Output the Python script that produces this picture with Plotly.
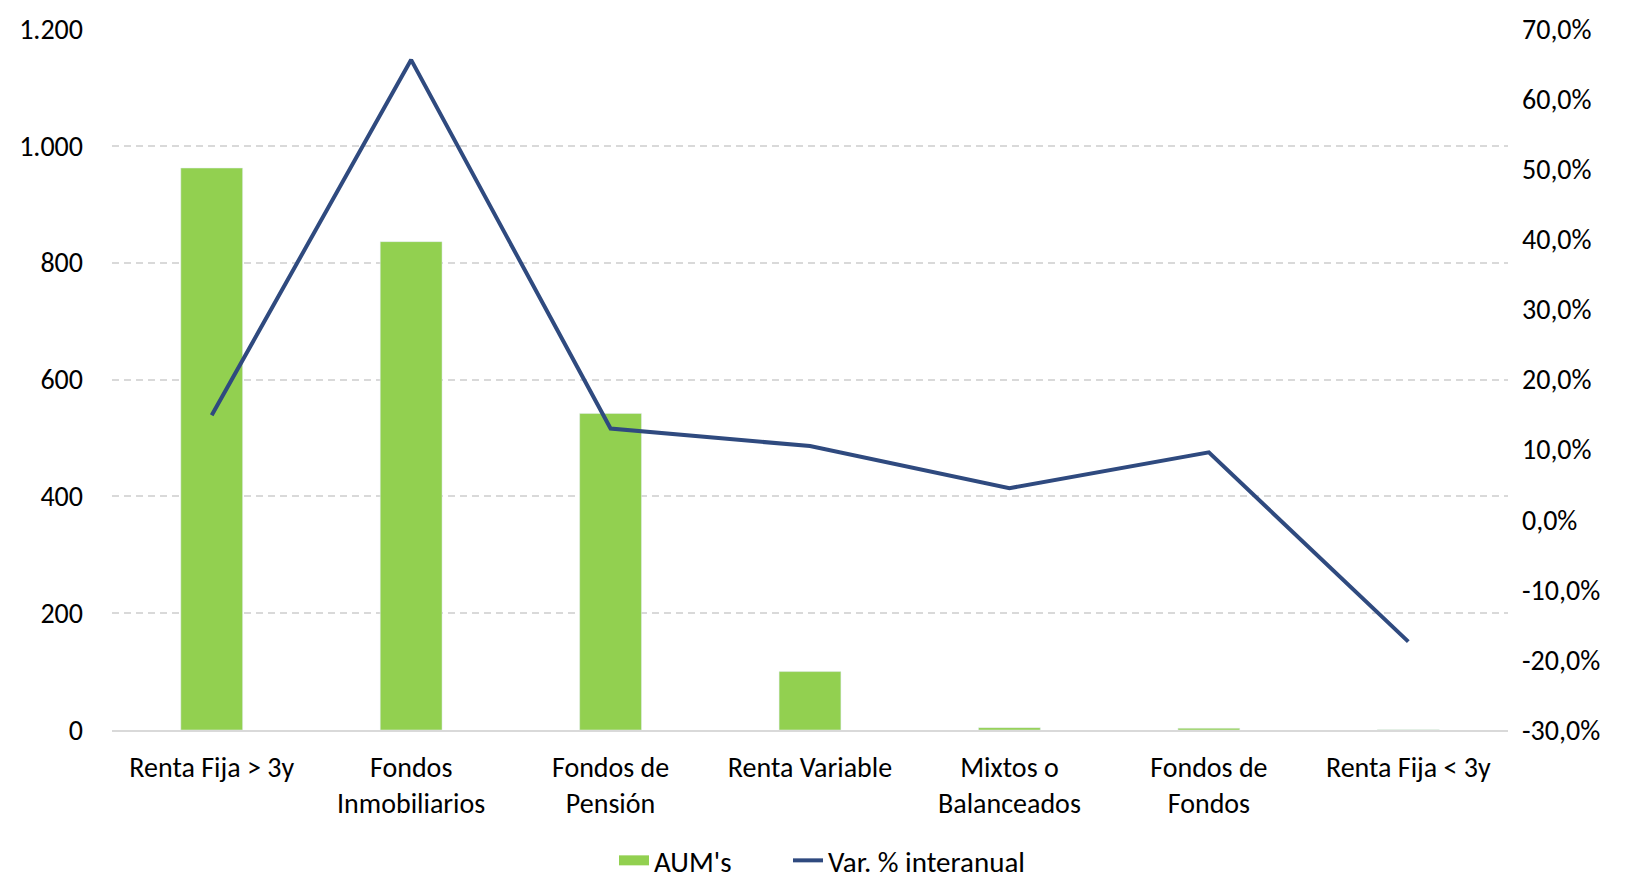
import plotly.graph_objects as go

categories = ["Renta Fija > 3y", "Fondos<br>Inmobiliarios", "Fondos de<br>Pensión",
              "Renta Variable", "Mixtos o<br>Balanceados", "Fondos de<br>Fondos", "Renta Fija < 3y"]
aums = [962, 836, 542, 100, 4, 3, 0.5]
var_pct = [0.149, 0.656, 0.130, 0.105, 0.045, 0.096, -0.174]

left_ticks = [0, 200, 400, 600, 800, 1000, 1200]
left_labels = ["0", "200", "400", "600", "800", "1.000", "1.200"]
right_ticks = [-0.3, -0.2, -0.1, 0.0, 0.1, 0.2, 0.3, 0.4, 0.5, 0.6, 0.7]
right_labels = ["-30,0%", "-20,0%", "-10,0%", "0,0%", "10,0%", "20,0%", "30,0%",
                "40,0%", "50,0%", "60,0%", "70,0%"]

FONT = "Calibri, Carlito, Lato, sans-serif"
GREEN = "#92D050"
BLUE = "#2F4A7F"
W = 1625

fig = go.Figure()
fig.add_trace(go.Bar(x=categories, y=aums, name="AUM's", marker_color=GREEN,
                     width=0.31, yaxis="y", showlegend=False))
# legend stand-in for the bar series (rectangular swatch)
fig.add_trace(go.Scatter(x=[None], y=[None], name="AUM's", mode="lines",
                         line=dict(color=GREEN, width=20), yaxis="y", legend="legend"))
fig.add_trace(go.Scatter(x=categories, y=var_pct, name="Var. % interanual", mode="lines",
                         line=dict(color=BLUE, width=4), yaxis="y2", legend="legend2"))

leg_common = dict(orientation="h", xref="container", xanchor="left",
                  y=6, yref="container", yanchor="bottom", font=dict(size=29),
                  bgcolor="rgba(0,0,0,0)")

fig.update_layout(
    width=W, height=878,
    plot_bgcolor="white", paper_bgcolor="white",
    margin=dict(l=104, r=125, t=21, b=156, autoexpand=False),
    font=dict(family=FONT, size=28, color="#000000"),
    showlegend=True,
    legend=dict(x=606 / W, **leg_common),
    legend2=dict(x=780 / W, **leg_common),
    xaxis=dict(showgrid=False, showline=True, linecolor="#D9D9D9", linewidth=2,
               tickfont=dict(size=28), ticks="", ticklabelstandoff=11),
    yaxis=dict(range=[0, 1200], tickvals=left_ticks, ticktext=left_labels,
               showgrid=True, gridcolor="#D9D9D9", griddash="7px,5px", gridwidth=1.5,
               zeroline=False, showline=False, ticklabelstandoff=28,
               ticklabeloverflow="allow", tickfont=dict(size=28)),
    yaxis2=dict(range=[-0.3, 0.7], tickvals=right_ticks, ticktext=right_labels,
                overlaying="y", side="right", showgrid=False, zeroline=False,
                showline=False, ticklabelstandoff=13, ticklabeloverflow="allow",
                tickfont=dict(size=28)),
)

fig.write_html("out.html")
